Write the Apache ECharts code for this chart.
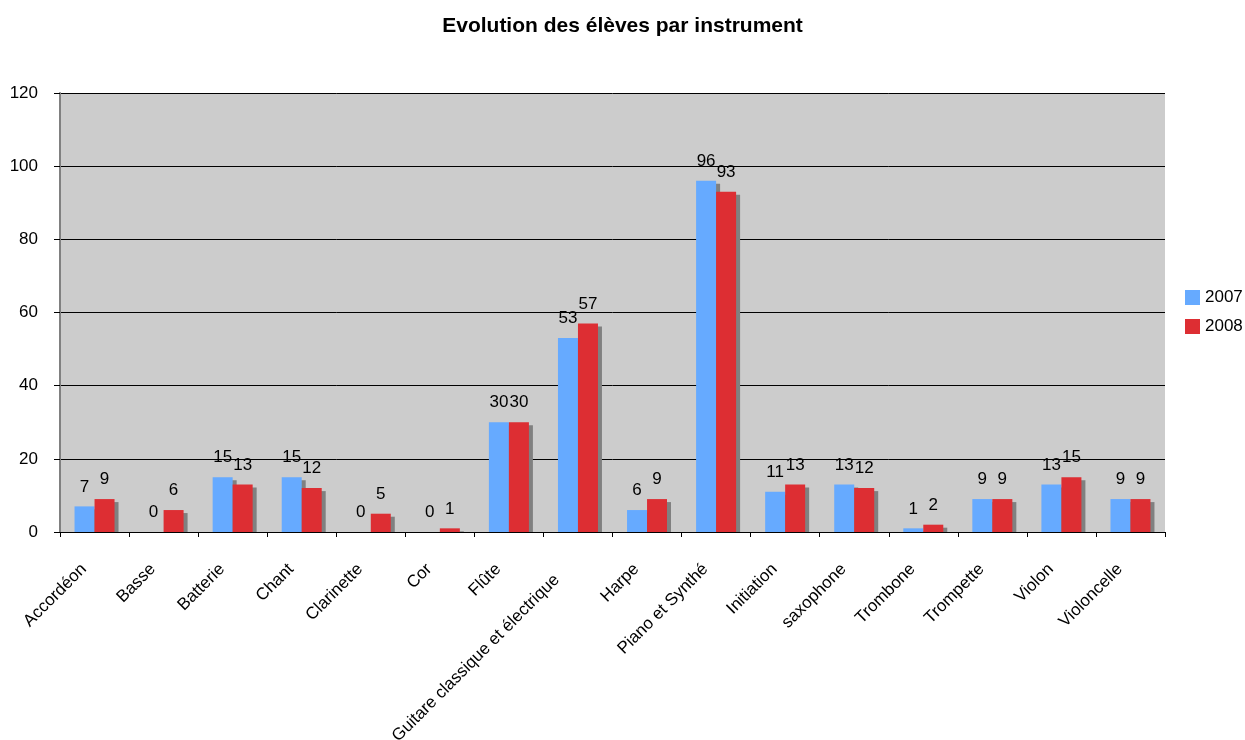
<!DOCTYPE html>
<html>
<head>
<meta charset="utf-8">
<script src="https://cdn.jsdelivr.net/npm/echarts@6/dist/echarts.min.js"></script>
<style>
html,body{margin:0;padding:0;background:#fff;}
#chart{width:1245px;height:740px;}
</style>
</head>
<body>
<div id="chart"></div>
<script>
const categories = ['Accordéon','Basse','Batterie','Chant','Clarinette','Cor','Flûte','Guitare classique et électrique','Harpe','Piano et Synthé','Initiation','saxophone','Trombone','Trompette','Violon','Violoncelle'];
const values2007 = [7,0,15,15,0,0,30,53,6,96,11,13,1,9,13,9];
const values2008 = [9,6,13,12,5,1,30,57,9,93,13,12,2,9,15,9];
const yTicks = {min:0, max:120, interval:20};
const seriesNames = ['2007','2008'];

const FONT = 'Arial, "Liberation Sans", sans-serif';
const BAR_W = 20;
const chart = echarts.init(document.getElementById('chart'));

function barSeries(name, data, color){
  return {
    name: name,
    type: 'bar',
    data: data,
    barWidth: BAR_W,
    barGap: '0%',
    z: 3,
    itemStyle: {color: color},
    emphasis: {disabled: true},
    label: {
      show: true,
      position: 'top',
      distance: 11,
      color: '#000',
      fontSize: 17,
      fontFamily: FONT
    }
  };
}

// drop shadow of each bar: same bar shifted right/down, cut at the axis
function shadowSeries(name, data, barLeftOffset){
  return {
    name: name,
    type: 'custom',
    z: 2,
    silent: true,
    data: data.map(function(v, i){ return [i, v]; }),
    renderItem: function(params, api){
      const i = api.value(0), v = api.value(1);
      const top = api.coord([i, v]);
      const base = api.coord([i, 0]);
      const y = top[1] + 3;
      const h = base[1] - y;
      if (h <= 0) return null;
      return {
        type: 'rect',
        shape: {x: top[0] + barLeftOffset + 4, y: y, width: BAR_W, height: h},
        style: {fill: '#808080'}
      };
    }
  };
}

chart.setOption({
  animation: false,
  backgroundColor: '#ffffff',
  title: {
    text: 'Evolution des élèves par instrument',
    left: 'center',
    top: 11,
    textStyle: {fontSize: 21, fontWeight: 'bold', color: '#000', fontFamily: FONT}
  },
  legend: {
    orient: 'vertical',
    left: 1185,
    top: 289,
    padding: 0,
    itemWidth: 15,
    itemHeight: 15,
    itemGap: 12,
    icon: 'rect',
    data: seriesNames,
    textStyle: {fontSize: 17, color: '#000', fontFamily: FONT}
  },
  grid: {
    left: 60, right: 80, top: 93, bottom: 208,
    containLabel: false,
    outerBoundsMode: 'none',
    show: true,
    backgroundColor: '#CCCCCC',
    borderWidth: 0
  },
  xAxis: {
    type: 'category',
    data: categories,
    z: 5,
    axisLine: {show: true, lineStyle: {color: '#000', width: 1}},
    axisTick: {show: true, length: 5, lineStyle: {color: '#000'}},
    axisLabel: {
      interval: 0,
      rotate: 45,
      margin: 24,
      padding: [0, 15, 0, 0],
      color: '#000',
      fontSize: 17,
      fontFamily: FONT,
      formatter: function(v){
        return v.length > 20 ? '{g|' + v + '}' : v;
      },
      rich: {
        g: {padding: [0, 15, 0, 0], fontSize: 17, fontFamily: FONT, color: '#000'}
      }
    },
    splitLine: {show: false}
  },
  yAxis: {
    type: 'value',
    min: yTicks.min,
    max: yTicks.max,
    interval: yTicks.interval,
    axisLine: {show: true, lineStyle: {color: '#808080', width: 2}},
    axisTick: {show: true, length: 6, lineStyle: {color: '#000'}},
    axisLabel: {margin: 22, color: '#000', fontSize: 17, fontFamily: FONT},
    splitLine: {show: true, lineStyle: {color: '#000', width: 1}}
  },
  series: [
    shadowSeries('shadow2007', values2007, -BAR_W),
    shadowSeries('shadow2008', values2008, 0),
    barSeries(seriesNames[0], values2007, '#66AAFF'),
    barSeries(seriesNames[1], values2008, '#DD2E33')
  ]
});
</script>
</body>
</html>
